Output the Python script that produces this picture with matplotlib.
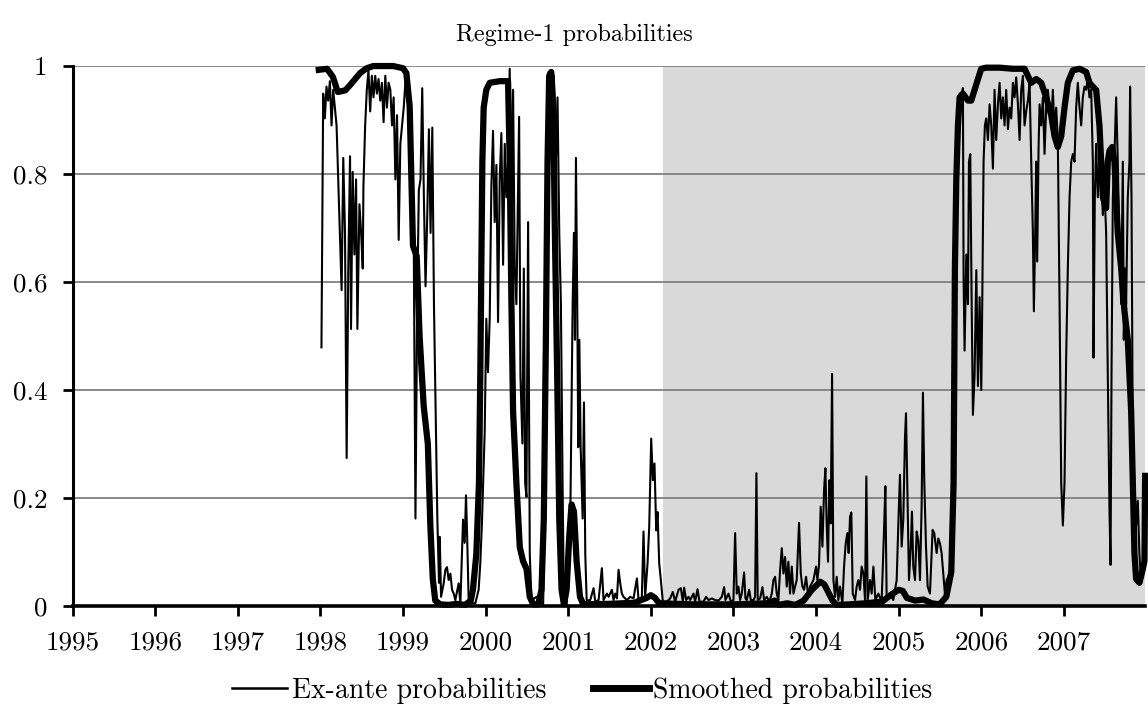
import numpy as np
import matplotlib
matplotlib.use("Agg")
import matplotlib.pyplot as plt
from matplotlib.lines import Line2D

plt.rcParams['font.family'] = ['cmr10', 'DejaVu Serif']
plt.rcParams['axes.formatter.use_mathtext'] = True
plt.rcParams['axes.unicode_minus'] = False

# years shown on the x axis
years = list(range(1995, 2008))
ytick_vals = [0, 0.2, 0.4, 0.6, 0.8, 1.0]
ytick_labels = ['0', '0.2', '0.4', '0.6', '0.8', '1']
shade_start = 2002.15

# ex-ante probabilities (thin line)
exante_t = [
    1998.012, 1998.033, 1998.053, 1998.073, 1998.093, 1998.114, 1998.134, 1998.154, 1998.195, 1998.228,
    1998.256, 1998.276, 1998.297, 1998.317, 1998.337, 1998.358, 1998.370, 1998.390, 1998.411, 1998.431,
    1998.447, 1998.472, 1998.492, 1998.512, 1998.520, 1998.541, 1998.561, 1998.581, 1998.602, 1998.622,
    1998.642, 1998.663, 1998.683, 1998.703, 1998.724, 1998.744, 1998.764, 1998.785, 1998.805, 1998.825,
    1998.846, 1998.866, 1998.886, 1998.907, 1998.927, 1998.947, 1998.967, 1998.988, 1999.008, 1999.028,
    1999.049, 1999.089, 1999.110, 1999.130, 1999.150, 1999.171, 1999.191, 1999.211, 1999.232, 1999.252,
    1999.272, 1999.293, 1999.313, 1999.333, 1999.354, 1999.374, 1999.394, 1999.415, 1999.435, 1999.444,
    1999.460, 1999.492, 1999.512, 1999.532, 1999.552, 1999.573, 1999.593, 1999.613, 1999.633, 1999.673,
    1999.694, 1999.726, 1999.746, 1999.762, 1999.774, 1999.794, 1999.835, 1999.875, 1999.915, 1999.935,
    1999.956, 1999.976, 1999.988, 2000.008, 2000.028, 2000.049, 2000.069, 2000.089, 2000.109, 2000.130,
    2000.150, 2000.170, 2000.190, 2000.211, 2000.231, 2000.251, 2000.271, 2000.291, 2000.312, 2000.332,
    2000.352, 2000.372, 2000.405, 2000.421, 2000.445, 2000.462, 2000.478, 2000.494, 2000.514, 2000.534,
    2000.555, 2000.615, 2000.696, 2000.729, 2000.745, 2000.761, 2000.785, 2000.810, 2000.826, 2000.850,
    2000.870, 2000.891, 2000.911, 2000.931, 2000.947, 2000.980, 2001.020, 2001.053, 2001.069, 2001.081,
    2001.093, 2001.109, 2001.121, 2001.134, 2001.150, 2001.174, 2001.190, 2001.206, 2001.223, 2001.266,
    2001.306, 2001.327, 2001.367, 2001.407, 2001.427, 2001.468, 2001.488, 2001.528, 2001.548, 2001.569,
    2001.589, 2001.609, 2001.629, 2001.649, 2001.669, 2001.710, 2001.750, 2001.790, 2001.831, 2001.851,
    2001.891, 2001.911, 2001.931, 2001.960, 2001.980, 2002.004, 2002.024, 2002.044, 2002.065, 2002.081,
    2002.101, 2002.121, 2002.145, 2002.194, 2002.234, 2002.266, 2002.294, 2002.335, 2002.363, 2002.387,
    2002.403, 2002.427, 2002.456, 2002.476, 2002.516, 2002.536, 2002.565, 2002.589, 2002.637, 2002.669,
    2002.698, 2002.738, 2002.778, 2002.819, 2002.859, 2002.887, 2002.903, 2002.940, 2002.968, 2003.000,
    2003.020, 2003.040, 2003.060, 2003.081, 2003.101, 2003.129, 2003.145, 2003.161, 2003.190, 2003.210,
    2003.242, 2003.262, 2003.278, 2003.294, 2003.323, 2003.351, 2003.371, 2003.403, 2003.435, 2003.464,
    2003.484, 2003.504, 2003.524, 2003.544, 2003.565, 2003.585, 2003.605, 2003.625, 2003.645, 2003.665,
    2003.685, 2003.706, 2003.726, 2003.746, 2003.766, 2003.794, 2003.815, 2003.835, 2003.855, 2003.879,
    2003.907, 2003.927, 2003.968, 2004.000, 2004.016, 2004.036, 2004.056, 2004.077, 2004.097, 2004.113,
    2004.129, 2004.145, 2004.161, 2004.177, 2004.194, 2004.210, 2004.230, 2004.250, 2004.270, 2004.290,
    2004.319, 2004.339, 2004.359, 2004.379, 2004.395, 2004.411, 2004.427, 2004.444, 2004.472, 2004.492,
    2004.512, 2004.532, 2004.552, 2004.573, 2004.593, 2004.609, 2004.625, 2004.653, 2004.673, 2004.694,
    2004.718, 2004.754, 2004.794, 2004.823, 2004.839, 2004.855, 2004.895, 2004.935, 2004.976, 2005.000,
    2005.016, 2005.036, 2005.056, 2005.077, 2005.089, 2005.105, 2005.125, 2005.145, 2005.161, 2005.177,
    2005.198, 2005.218, 2005.238, 2005.258, 2005.278, 2005.294, 2005.310, 2005.331, 2005.351, 2005.379,
    2005.411, 2005.431, 2005.460, 2005.480, 2005.500, 2005.520, 2005.540, 2005.560, 2005.581, 2005.621,
    2005.641, 2005.665, 2005.681, 2005.698, 2005.718, 2005.738, 2005.758, 2005.778, 2005.786, 2005.798,
    2005.819, 2005.839, 2005.851, 2005.867, 2005.883, 2005.899, 2005.919, 2005.940, 2005.960, 2005.980,
    2006.000, 2006.012, 2006.028, 2006.044, 2006.060, 2006.081, 2006.101, 2006.121, 2006.141, 2006.161,
    2006.181, 2006.202, 2006.222, 2006.242, 2006.262, 2006.282, 2006.302, 2006.323, 2006.343, 2006.363,
    2006.383, 2006.403, 2006.423, 2006.444, 2006.464, 2006.484, 2006.504, 2006.524, 2006.544, 2006.565,
    2006.585, 2006.605, 2006.625, 2006.637, 2006.653, 2006.665, 2006.677, 2006.694, 2006.706, 2006.726,
    2006.746, 2006.766, 2006.786, 2006.806, 2006.827, 2006.847, 2006.867, 2006.887, 2006.907, 2006.927,
    2006.948, 2006.968, 2006.988, 2007.008, 2007.028, 2007.048, 2007.069, 2007.089, 2007.109, 2007.129,
    2007.149, 2007.169, 2007.190, 2007.210, 2007.230, 2007.250, 2007.270, 2007.290, 2007.310, 2007.331,
    2007.351, 2007.359, 2007.375, 2007.391, 2007.411, 2007.431, 2007.452, 2007.472, 2007.492, 2007.512,
    2007.532, 2007.552, 2007.565, 2007.577, 2007.593, 2007.613, 2007.633, 2007.653, 2007.673, 2007.694,
    2007.714, 2007.726, 2007.742, 2007.754, 2007.774, 2007.794, 2007.802, 2007.819, 2007.835, 2007.855,
    2007.875, 2007.895, 2007.915, 2007.935, 2007.956, 2007.972, 2007.984,
]
exante_p = [
    0.479, 0.949, 0.903, 0.962, 0.936, 0.972, 0.890, 0.956, 0.890, 0.724,
    0.585, 0.830, 0.691, 0.274, 0.625, 0.833, 0.513, 0.804, 0.651, 0.790,
    0.513, 0.744, 0.691, 0.625, 0.777, 0.890, 0.956, 0.992, 0.916, 0.982,
    0.942, 0.982, 0.949, 0.976, 0.936, 0.969, 0.896, 0.982, 0.923, 0.969,
    0.956, 0.890, 0.942, 0.790, 0.909, 0.678, 0.856, 0.890, 0.923, 0.969,
    0.942, 0.903, 0.691, 0.658, 0.162, 0.559, 0.770, 0.790, 0.959, 0.757,
    0.592, 0.724, 0.883, 0.691, 0.886, 0.559, 0.360, 0.162, 0.043, 0.128,
    0.017, 0.042, 0.067, 0.072, 0.048, 0.060, 0.030, 0.023, 0.011, 0.042,
    0.005, 0.160, 0.117, 0.205, 0.141, 0.011, 0.005, 0.005, 0.030, 0.079,
    0.159, 0.264, 0.321, 0.532, 0.433, 0.532, 0.777, 0.880, 0.711, 0.817,
    0.526, 0.790, 0.876, 0.632, 0.856, 0.757, 0.823, 0.995, 0.757, 0.956,
    0.625, 0.559, 0.906, 0.427, 0.301, 0.625, 0.228, 0.202, 0.711, 0.096,
    0.010, 0.017, 0.003, 0.294, 0.625, 0.989, 0.989, 0.890, 0.982, 0.823,
    0.942, 0.691, 0.559, 0.228, 0.010, 0.003, 0.096, 0.559, 0.691, 0.493,
    0.830, 0.559, 0.294, 0.493, 0.294, 0.162, 0.377, 0.096, 0.010, 0.011,
    0.033, 0.008, 0.011, 0.070, 0.011, 0.023, 0.017, 0.030, 0.011, 0.023,
    0.014, 0.067, 0.042, 0.023, 0.017, 0.011, 0.017, 0.014, 0.051, 0.011,
    0.017, 0.138, 0.017, 0.079, 0.146, 0.310, 0.233, 0.264, 0.140, 0.174,
    0.079, 0.048, 0.008, 0.008, 0.014, 0.026, 0.008, 0.030, 0.033, 0.008,
    0.034, 0.011, 0.017, 0.011, 0.023, 0.008, 0.031, 0.008, 0.008, 0.017,
    0.011, 0.014, 0.011, 0.010, 0.017, 0.035, 0.011, 0.023, 0.008, 0.011,
    0.135, 0.023, 0.036, 0.011, 0.023, 0.062, 0.014, 0.011, 0.030, 0.011,
    0.011, 0.017, 0.246, 0.011, 0.014, 0.035, 0.011, 0.017, 0.008, 0.023,
    0.048, 0.054, 0.023, 0.011, 0.067, 0.107, 0.060, 0.091, 0.036, 0.082,
    0.023, 0.073, 0.023, 0.036, 0.048, 0.154, 0.060, 0.036, 0.030, 0.054,
    0.017, 0.036, 0.048, 0.073, 0.048, 0.076, 0.184, 0.110, 0.215, 0.255,
    0.147, 0.082, 0.233, 0.153, 0.430, 0.048, 0.017, 0.054, 0.011, 0.036,
    0.005, 0.073, 0.116, 0.135, 0.098, 0.165, 0.173, 0.023, 0.011, 0.036,
    0.048, 0.030, 0.073, 0.060, 0.011, 0.240, 0.011, 0.048, 0.023, 0.073,
    0.011, 0.023, 0.008, 0.141, 0.222, 0.011, 0.023, 0.011, 0.048, 0.172,
    0.243, 0.110, 0.159, 0.314, 0.357, 0.215, 0.048, 0.104, 0.175, 0.073,
    0.048, 0.138, 0.122, 0.048, 0.184, 0.395, 0.233, 0.110, 0.036, 0.023,
    0.141, 0.135, 0.098, 0.125, 0.116, 0.098, 0.060, 0.023, 0.048, 0.060,
    0.100, 0.222, 0.625, 0.790, 0.837, 0.949, 0.942, 0.959, 0.612, 0.473,
    0.651, 0.559, 0.823, 0.837, 0.572, 0.354, 0.427, 0.622, 0.407, 0.572,
    0.400, 0.559, 0.823, 0.890, 0.903, 0.863, 0.929, 0.890, 0.810, 0.956,
    0.863, 0.929, 0.969, 0.903, 0.942, 0.890, 0.956, 0.883, 0.923, 0.903,
    0.969, 0.942, 0.979, 0.929, 0.863, 0.956, 0.982, 0.890, 0.916, 0.936,
    0.969, 0.823, 0.691, 0.546, 0.691, 0.823, 0.638, 0.850, 0.929, 0.890,
    0.942, 0.837, 0.923, 0.956, 0.923, 0.890, 0.956, 0.876, 0.923, 0.863,
    0.559, 0.228, 0.149, 0.228, 0.460, 0.625, 0.757, 0.823, 0.837, 0.823,
    0.923, 0.969, 0.923, 0.890, 0.942, 0.962, 0.956, 0.976, 0.942, 0.956,
    0.823, 0.460, 0.757, 0.856, 0.757, 0.823, 0.790, 0.724, 0.770, 0.691,
    0.427, 0.182, 0.076, 0.427, 0.757, 0.837, 0.942, 0.823, 0.658, 0.559,
    0.823, 0.493, 0.625, 0.559, 0.757, 0.823, 0.962, 0.757, 0.294, 0.228,
    0.149, 0.195, 0.096, 0.043, 0.063, 0.096, 0.240,
]

# smoothed probabilities (thick line)
smooth_t = [
    1997.98, 1998.08, 1998.15, 1998.21, 1998.30, 1998.36, 1998.48, 1998.56, 1998.64, 1998.88,
    1999.00, 1999.04, 1999.08, 1999.10, 1999.12, 1999.165, 1999.20, 1999.25, 1999.30, 1999.33,
    1999.36, 1999.39, 1999.45, 1999.55, 1999.65, 1999.75, 1999.82, 1999.846, 1999.887, 1999.919,
    1999.935, 1999.947, 1999.960, 1999.976, 2000.008, 2000.049, 2000.170, 2000.271, 2000.291, 2000.312,
    2000.332, 2000.372, 2000.413, 2000.453, 2000.494, 2000.534, 2000.575, 2000.636, 2000.676, 2000.704,
    2000.729, 2000.749, 2000.769, 2000.794, 2000.818, 2000.838, 2000.866, 2000.891, 2000.919, 2000.947,
    2000.980, 2001.012, 2001.040, 2001.069, 2001.101, 2001.142, 2001.182, 2001.50, 2001.80, 2001.95,
    2002.00, 2002.05, 2002.10, 2002.50, 2003.00, 2003.40, 2003.50, 2003.55, 2003.65, 2003.75,
    2003.85, 2003.95, 2004.05, 2004.10, 2004.20, 2004.25, 2004.40, 2004.60, 2004.80, 2004.90,
    2005.00, 2005.05, 2005.10, 2005.20, 2005.30, 2005.40, 2005.496, 2005.577, 2005.637, 2005.665,
    2005.681, 2005.698, 2005.718, 2005.738, 2005.778, 2005.839, 2005.879, 2005.919, 2005.960, 2006.000,
    2006.060, 2006.222, 2006.383, 2006.524, 2006.565, 2006.605, 2006.665, 2006.726, 2006.786, 2006.847,
    2006.887, 2006.927, 2006.968, 2007.008, 2007.048, 2007.109, 2007.190, 2007.270, 2007.310, 2007.351,
    2007.391, 2007.431, 2007.472, 2007.512, 2007.532, 2007.552, 2007.585, 2007.613, 2007.653, 2007.694,
    2007.734, 2007.774, 2007.815, 2007.835, 2007.855, 2007.875, 2007.915, 2007.948, 2007.976, 2007.984,
]
smooth_p = [
    0.993, 0.995, 0.980, 0.952, 0.955, 0.965, 0.987, 0.996, 1.000, 1.000,
    0.996, 0.987, 0.926, 0.800, 0.667, 0.648, 0.500, 0.370, 0.300, 0.150,
    0.050, 0.010, 0.003, 0.002, 0.004, 0.002, 0.010, 0.030, 0.096, 0.228,
    0.427, 0.625, 0.823, 0.923, 0.956, 0.969, 0.972, 0.972, 0.823, 0.559,
    0.360, 0.228, 0.109, 0.083, 0.069, 0.017, 0.003, 0.003, 0.030, 0.162,
    0.493, 0.823, 0.982, 0.989, 0.923, 0.691, 0.427, 0.162, 0.030, 0.003,
    0.030, 0.129, 0.188, 0.175, 0.083, 0.017, 0.003, 0.004, 0.006, 0.015,
    0.020, 0.015, 0.005, 0.003, 0.003, 0.005, 0.010, 0.002, 0.005, 0.002,
    0.010, 0.030, 0.045, 0.040, 0.010, 0.002, 0.003, 0.005, 0.008, 0.020,
    0.030, 0.028, 0.015, 0.010, 0.012, 0.005, 0.003, 0.017, 0.063, 0.228,
    0.625, 0.790, 0.890, 0.942, 0.949, 0.936, 0.936, 0.956, 0.976, 0.995,
    0.997, 0.997, 0.995, 0.995, 0.982, 0.969, 0.976, 0.969, 0.942, 0.909,
    0.870, 0.850, 0.870, 0.923, 0.969, 0.992, 0.995, 0.989, 0.969, 0.962,
    0.956, 0.890, 0.757, 0.737, 0.823, 0.843, 0.850, 0.823, 0.691, 0.625,
    0.546, 0.493, 0.360, 0.228, 0.096, 0.050, 0.043, 0.063, 0.083, 0.241,
]

fig = plt.figure(figsize=(11.48, 7.18), dpi=100)
ax = fig.add_axes([0.0633, 0.156, 0.9342, 0.752])

ax.axvspan(shade_start, 2008, color='#d9d9d9', lw=0, zorder=0)
for v in ytick_vals[1:]:
    ax.axhline(v, color='#808080', lw=1.3, zorder=1)

ax.plot(exante_t, exante_p, color='black', lw=1.5, zorder=3, clip_on=False)
ax.plot(smooth_t, smooth_p, color='black', lw=4.5, zorder=4, clip_on=False,
        solid_joinstyle='round')

ax.set_xlim(1995, 2007.984)
ax.set_ylim(0, 1)
ax.set_xticks(years)
ax.set_xticklabels([str(y) for y in years])
ax.set_yticks(ytick_vals)
ax.set_yticklabels(ytick_labels)
ax.tick_params(axis='both', labelsize=19.5, direction='out', width=2, length=7, color='black')
ax.tick_params(axis='x', pad=11)
ax.tick_params(axis='y', pad=11)

ax.spines["top"].set_visible(False)
ax.spines["right"].set_visible(False)
ax.spines["left"].set_linewidth(2.2)
ax.spines["bottom"].set_linewidth(2.6)
ax.spines["left"].set_zorder(6)
ax.spines["bottom"].set_zorder(6)

fig.text(0.5, 0.951, 'Regime-1 probabilities', ha='center', va='center', fontsize=17.5)

handles = [Line2D([], [], color='black', lw=1.8), Line2D([], [], color='black', lw=5)]
fig.legend(handles, ['Ex-ante probabilities', 'Smoothed probabilities'],
           loc='center', bbox_to_anchor=(0.507, 0.038), ncol=2, frameon=False,
           fontsize=20, handlelength=2.0, handletextpad=0.15, columnspacing=1.7)

fig.savefig('out.png', dpi=100)
